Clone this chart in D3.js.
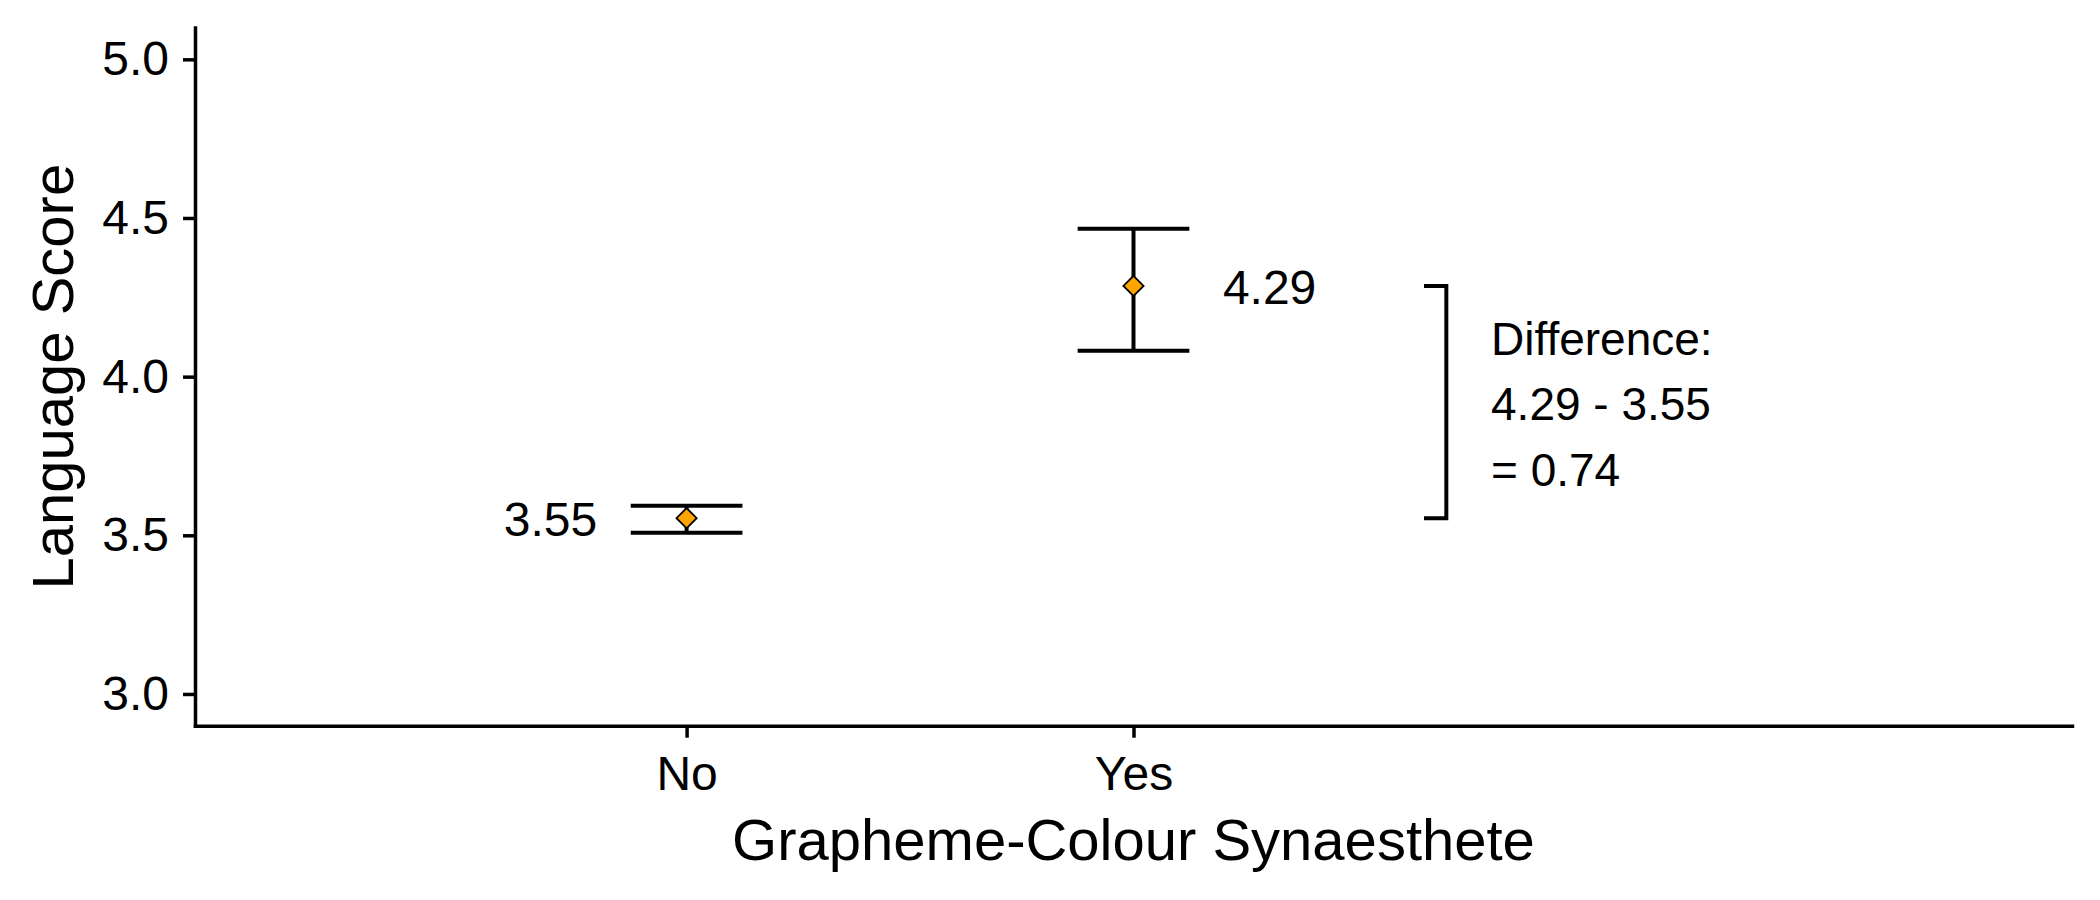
<!DOCTYPE html>
<html>
<head>
<meta charset="utf-8">
<script src="https://cdn.jsdelivr.net/npm/d3@7"></script>
<style>
  body { margin: 0; background: #fff; }
  text { font-family: "Liberation Sans", Arial, sans-serif; fill: #000; }
</style>
</head>
<body>
<script>
// data
const groups = ["No", "Yes"];
const means = [3.554, 4.286];
const lower = [3.508, 4.082];
const upper = [3.593, 4.466];
const meanLabels = ["3.55", "4.29"];
const yTicks = [3.0, 3.5, 4.0, 4.5, 5.0];
const diffLines = ["Difference:", "4.29 - 3.55", "= 0.74"];

const W = 2100, H = 900;
const margin = {top: 27.6, right: 28, bottom: 174.3, left: 195};
const width = W - margin.left - margin.right;
const height = H - margin.top - margin.bottom;

const svg = d3.select("body").append("svg")
  .attr("width", W)
  .attr("height", H);

const g = svg.append("g")
  .attr("transform", `translate(${margin.left},${margin.top})`);

// groups sit at positions 1 and 2 on a continuous axis
const x = d3.scaleLinear().domain([-0.1, 4.1]).range([0, width]);
const y = d3.scaleLinear().domain([2.9, 5.1]).range([height, 0]);

const data = groups.map((grp, i) => ({
  grp, pos: i + 1, mean: means[i], lo: lower[i], hi: upper[i], label: meanLabels[i]
}));

// axes
const yAxis = d3.axisLeft(y)
  .tickValues(yTicks)
  .tickFormat(d3.format(".1f"))
  .tickSize(12)
  .tickSizeOuter(0)
  .tickPadding(14);

const xAxis = d3.axisBottom(x)
  .tickValues(data.map(d => d.pos))
  .tickFormat(d => groups[d - 1])
  .tickSize(12)
  .tickSizeOuter(0)
  .tickPadding(18);

const gy = g.append("g").call(yAxis);
const gx = g.append("g").attr("transform", `translate(0,${height})`).call(xAxis);

[gx, gy].forEach(ax => {
  ax.select(".domain").attr("stroke", "#000").attr("stroke-width", 3.5).attr("stroke-linecap", "square");
  ax.selectAll(".tick line").attr("stroke", "#000").attr("stroke-width", 3.5);
  ax.selectAll(".tick text")
    .attr("fill", "#000")
    .style("font-family", '"Liberation Sans", Arial, sans-serif')
    .style("font-size", "48px");
});

// axis titles
g.append("text")
  .attr("x", width / 2)
  .attr("y", height + 134)
  .attr("text-anchor", "middle")
  .style("font-size", "58px")
  .text("Grapheme-Colour Synaesthete");

g.append("text")
  .attr("transform", `translate(${73 - margin.left},${height / 2}) rotate(-90)`)
  .attr("text-anchor", "middle")
  .style("font-size", "58px")
  .text("Language Score");

// error bars
const halfW = 0.125;
const eb = g.append("g").attr("stroke", "#000").attr("stroke-width", 4).attr("fill", "none");

eb.selectAll(".stem").data(data).enter().append("line")
  .attr("x1", d => x(d.pos)).attr("x2", d => x(d.pos))
  .attr("y1", d => y(d.lo)).attr("y2", d => y(d.hi));

eb.selectAll(".cap-hi").data(data).enter().append("line")
  .attr("x1", d => x(d.pos - halfW)).attr("x2", d => x(d.pos + halfW))
  .attr("y1", d => y(d.hi)).attr("y2", d => y(d.hi));

eb.selectAll(".cap-lo").data(data).enter().append("line")
  .attr("x1", d => x(d.pos - halfW)).attr("x2", d => x(d.pos + halfW))
  .attr("y1", d => y(d.lo)).attr("y2", d => y(d.lo));

// mean points (diamonds)
const diamondType = d3.symbolDiamond2 || d3.symbolSquare;
const diamond = d3.symbol().type(diamondType).size(d3.symbolDiamond2 ? 260 : 210);

g.selectAll(".pt").data(data).enter().append("path")
  .attr("d", diamond)
  .attr("transform", d => `translate(${x(d.pos)},${y(d.mean)})` + (d3.symbolDiamond2 ? "" : " rotate(45)"))
  .attr("fill", "#FFA500")
  .attr("stroke", "#000")
  .attr("stroke-width", 1.8);

// mean labels: left of "No", right of "Yes"
g.selectAll(".lbl").data(data).enter().append("text")
  .attr("x", d => d.pos === 1 ? x(d.pos - 0.2) : x(d.pos + 0.2))
  .attr("y", d => y(d.mean))
  .attr("dy", "0.37em")
  .attr("text-anchor", d => d.pos === 1 ? "end" : "start")
  .style("font-size", "48px")
  .text(d => d.label);

// difference bracket
const bx = 2.70, tickL = 0.05;
const bracket = [
  [bx - tickL, means[1]], [bx, means[1]], [bx, means[0]], [bx - tickL, means[0]]
];
g.append("path")
  .attr("d", d3.line().x(d => x(d[0])).y(d => y(d[1]))(bracket))
  .attr("fill", "none")
  .attr("stroke", "#000")
  .attr("stroke-width", 4)
  .attr("stroke-linejoin", "miter");

const midY = (means[0] + means[1]) / 2;
const diffText = g.append("text")
  .attr("x", x(2.8))
  .attr("y", y(midY))
  .style("font-size", "46px");
diffText.selectAll("tspan").data(diffLines).enter().append("tspan")
  .attr("x", x(2.8))
  .attr("y", y(midY))
  .attr("dy", (d, i) => `${0.4 + (i - 1) * 1.42}em`)
  .text(d => d);
</script>
</body>
</html>
